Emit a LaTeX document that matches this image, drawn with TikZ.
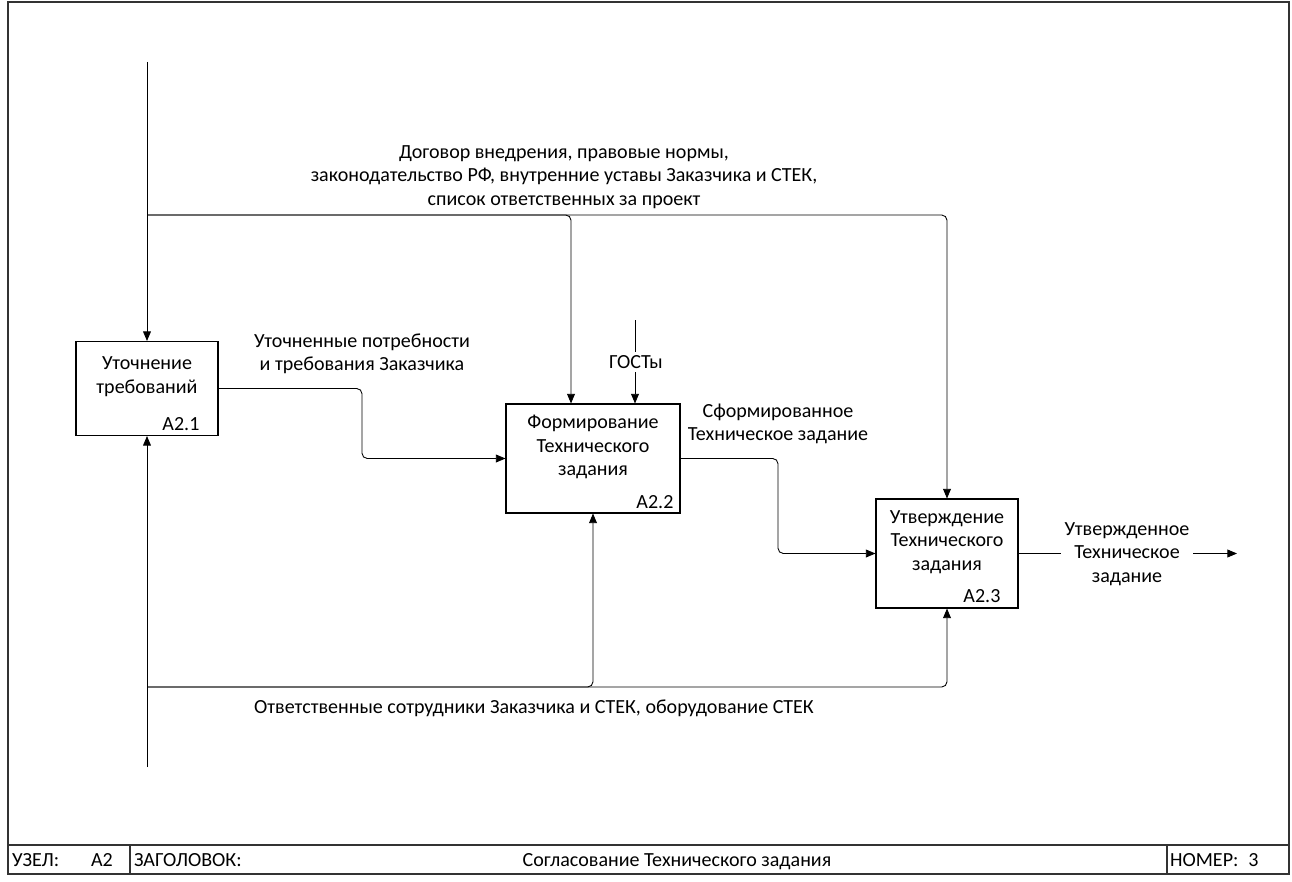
\documentclass[tikz,border=0pt]{standalone}
\usepackage{fontspec}
\setmainfont{Carlito}
\usetikzlibrary{arrows.meta}

\begin{document}
\begin{tikzpicture}[x=0.02cm, y=-0.02cm,
      font=\fontsize{11.4}{13.4}\selectfont,
      every node/.style={inner sep=1pt, align=center},
      func/.style={draw, line width=0.6pt, minimum width=2.84cm, minimum height=2.18cm},
      funcnum/.style={anchor=base east},
      arrow/.style={line width=0.5pt, rounded corners=3pt, -{Triangle[length=5.5pt,width=4.5pt]}},
      gap/.style={fill=white, inner sep=2pt},
      frame/.style={draw, line width=0.8pt, black!80}]
  %.
  \useasboundingbox (0,0) rectangle (1292,882);
  \draw[frame] (8,2) rectangle (1289,874);
  \draw[frame] (8,845) -- (1289,845);
  \draw[frame] (130,845) -- (130,874);
  \draw[frame] (1167,845) -- (1167,874);
  \node[anchor=base west] (uzel) at (10,866) {УЗЕЛ:};
  \node[anchor=base west] (uzelnum) at (89,866) {A2};
  \node[anchor=base west] (zag) at (132,866) {ЗАГОЛОВОК:};
  \node[anchor=base] (title) at (677,866) {Согласование Технического задания};
  \node[anchor=base west] (nomer) at (1168,866) {НОМЕР:\enspace 3};
  %.
  \node[func, minimum height=1.88cm] (a1) at (147,388.5) {};
  \node (a1t) at ([yshift=0.24cm]a1.center) {Уточнение\\требований};
  \node[funcnum] (a1n) at ([xshift=-0.34cm,yshift=0.12cm]a1.south east) {A2.1};
  \node[func, minimum width=3.48cm] (a2) at (593,458.5) {};
  \node (a2t) at ([yshift=0.23cm]a2.center) {Формирование\\Технического\\задания};
  \node[funcnum] (a2n) at ([xshift=-0.1cm,yshift=0.1cm]a2.south east) {A2.2};
  \node[func] (a3) at (947,553.5) {};
  \node (a3t) at ([yshift=0.23cm]a3.center) {Утверждение\\Технического\\задания};
  \node[funcnum] (a3n) at ([xshift=-0.32cm,yshift=0.12cm]a3.south east) {A2.3};
  %.
  \coordinate (ctop) at (147,62);
  \coordinate (cjoin) at (147,215);
  \coordinate (gost) at (635,320);
  \coordinate (mbot) at (147,767);
  \coordinate (mjoin) at (147,687);
  \coordinate (bend1) at (362,420);
  \coordinate (bend2) at (778,500);
  \coordinate (out) at (1237,553.5);
  %.
  \draw[arrow] (ctop) -- (a1.north);
  \draw[arrow] (cjoin) -| ([xshift=-0.44cm]a2.north);
  \draw[arrow] (cjoin) -| (a3.north);
  \draw[arrow] (gost) -- (gost |- a2.north);
  \draw[arrow] (a1.east) -| (bend1) |- (a2.west);
  \draw[arrow] (a2.east) -| (bend2) |- (a3.west);
  \draw[arrow] (a3.east) -- (out);
  \draw[arrow] (mbot) -- (a1.south);
  \draw[arrow] (mjoin) -| (a2.south);
  \draw[arrow] (mjoin) -| (a3.south);
  %.
  \node (ctl) at (564,177) {Договор внедрения, правовые нормы,\\законодательство РФ, внутренние уставы Заказчика и СТЕК,\\список ответственных за проект};
  \node (o1) at (362,354) {Уточненные потребности\\и требования Заказчика};
  \node[gap] (gostl) at (636,362) {ГОСТы};
  \node (o2) at (778,424) {Сформированное\\Техническое задание};
  \node[gap] (o3) at (1127,554) {Утвержденное\\Техническое\\задание};
  \node (mech) at (534,708) {Ответственные сотрудники Заказчика и СТЕК, оборудование СТЕК};
  %.
\end{tikzpicture}
\end{document}
